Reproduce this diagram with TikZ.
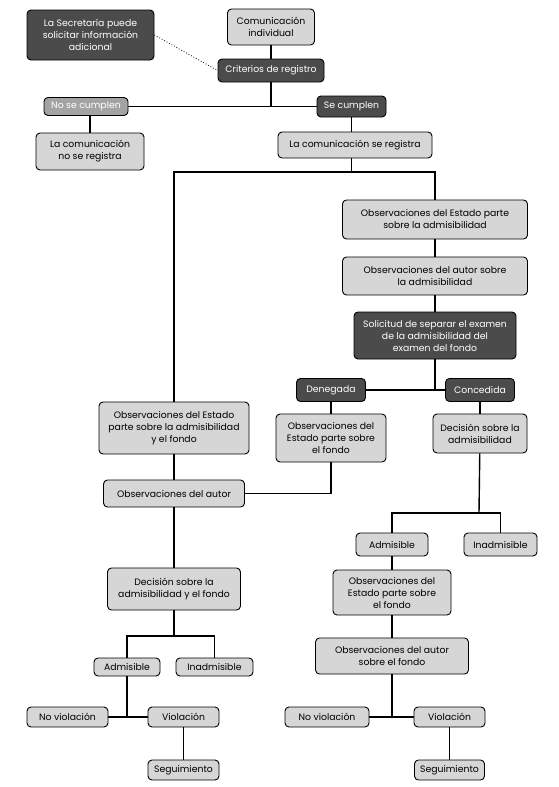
\documentclass[tikz,border=0pt]{standalone}
\usepackage{fontspec}
\setmainfont{Poppins}
\usepackage{tikz}

\definecolor{darkgr}{HTML}{4B4B4B}
\definecolor{midgr}{HTML}{A3A3A3}
\definecolor{lightgr}{HTML}{D6D6D6}

\tikzset{
	box/.style={shape=rectangle,draw=black,line width=0.9pt,rounded corners=4pt,
		inner sep=1pt,align=center,font=\fontsize{9.3}{12}\selectfont},
	darkbox/.style={box,fill=darkgr,text=white},
	midbox/.style={box,fill=midgr,text=white},
	lightbox/.style={box,fill=lightgr,text=black},
	link/.style={line width=1.4pt,draw=black}
}

\begin{document}
\begin{tikzpicture}[x=1pt,y=-1pt]
	\useasboundingbox (0,0) rectangle (559,787);

		\node[darkbox,minimum width=127,minimum height=50]  (secr) at (90.5, 35)   {La Secretaría puede\\solicitar información\\adicional};
		\node[lightbox,minimum width=87,minimum height=36]  (com)  at (271, 27)    {Comunicación\\individual};
		\node[darkbox,minimum width=106,minimum height=23]  (crit) at (271, 70.5)  {Criterios de registro};
		\node[midbox,minimum width=84,minimum height=18]    (noc)  at (86, 106.5)  {No se cumplen};
		\node[darkbox,minimum width=69,minimum height=21]   (sic)  at (351.5, 106.5) {Se cumplen};
		\node[lightbox,minimum width=108,minimum height=37] (nreg) at (90, 151.5)  {La comunicación\\no se registra};
		\node[lightbox,minimum width=154,minimum height=26] (reg)  at (355, 145)   {La comunicación se registra};

		\node[lightbox,minimum width=185,minimum height=39] (oea)  at (435, 219.5) {Observaciones del Estado parte\\sobre la admisibilidad};
		\node[lightbox,minimum width=185,minimum height=38] (oaa)  at (435, 276)   {Observaciones del autor sobre\\la admisibilidad};
		\node[darkbox,minimum width=162,minimum height=47]  (sol)  at (435, 335.5) {Solicitud de separar el examen\\de la admisibilidad del\\examen del fondo};
		\node[darkbox,minimum width=69,minimum height=23]   (den)  at (331, 390)   {Denegada};
		\node[darkbox,minimum width=69,minimum height=23]   (con)  at (480, 390)   {Concedida};

		\node[lightbox,minimum width=150,minimum height=52] (oeaf) at (174, 428)   {Observaciones del Estado\\parte sobre la admisibilidad\\y el fondo};
		\node[lightbox,minimum width=110,minimum height=48] (oef)  at (331, 438)   {Observaciones del\\Estado parte sobre\\el fondo};
		\node[lightbox,minimum width=94,minimum height=39]  (da)   at (480, 433.5) {Decisión sobre la\\admisibilidad};
		\node[lightbox,minimum width=141,minimum height=27] (oau)  at (174, 493.5) {Observaciones del autor};

		\node[lightbox,minimum width=72,minimum height=23]  (adr)  at (392, 544.5) {Admisible};
		\node[lightbox,minimum width=73,minimum height=23]  (inr)  at (500.5, 544.5) {Inadmisible};
		\node[lightbox,minimum width=118,minimum height=45] (oefr) at (392, 592.5) {Observaciones del\\Estado parte sobre\\el fondo};
		\node[lightbox,minimum width=153,minimum height=36] (oafr) at (392, 656)   {Observaciones del autor\\sobre el fondo};
		\node[lightbox,minimum width=84,minimum height=20]  (nvr)  at (327, 717)   {No violación};
		\node[lightbox,minimum width=71,minimum height=20]  (vir)  at (449.5, 717) {Violación};
		\node[lightbox,minimum width=70,minimum height=20]  (segr) at (449.5, 770) {Seguimiento};

		\node[lightbox,minimum width=133,minimum height=42] (dadf) at (174, 589)   {Decisión sobre la\\admisibilidad y el fondo};
		\node[lightbox,minimum width=66,minimum height=18]  (adl)  at (127, 667)   {Admisible};
		\node[lightbox,minimum width=77,minimum height=18]  (inl)  at (214.5, 667) {Inadmisible};
		\node[lightbox,minimum width=81,minimum height=20]  (nvl)  at (67.5, 717)  {No violación};
		\node[lightbox,minimum width=71,minimum height=20]  (vil)  at (183.5, 717) {Violación};
		\node[lightbox,minimum width=71,minimum height=20]  (segl) at (183.5, 770) {Seguimiento};

		\coordinate (jr) at (435, 172);
		\coordinate (jd) at (479, 513);
		\coordinate (jl) at (174, 636);

		\draw[dotted,line width=0.8pt] (secr.east) -- (crit.west);
		\path[link] (com) edge (crit);
		\path[link] (noc) edge (sic);
		\path[link] (crit) edge (crit |- noc);
		\path[link] (nreg) edge (nreg |- noc.south);
		\path[link] (sic) edge (sic |- reg.north);
		\path[link] (sic |- reg.south) edge (sic |- jr);
		\draw[link] (oeaf) |- (jr) -- (oea);
		\path[link] (oea) edge (oaa);
		\path[link] (oaa) edge (sol);
		\path[link] (den) edge (con);
		\path[link] (sol) edge (sol |- con);
		\path[link] (den) edge (oef);
		\path[link] (con) edge (da);
		\path[link] (oeaf) edge (oau);
		\draw[link] (oef) |- (oau);
		\path[link] (da) edge (jd);
		\draw[link] (adr) |- (jd) -| (inr);
		\path[link] (adr) edge (oefr);
		\path[link] (oefr) edge (oafr);
		\path[link] (nvr) edge (vir);
		\path[link] (oafr) edge (oafr |- vir);
		\path[link] (vir) edge (segr);
		\path[link] (oau) edge (dadf);
		\path[link] (dadf) edge (jl);
		\draw[link] (adl) |- (jl) -| (inl);
		\path[link] (nvl) edge (vil);
		\path[link] (adl) edge (adl |- vil);
		\path[link] (vil) edge (segl);

		\end{tikzpicture}
\end{document}
